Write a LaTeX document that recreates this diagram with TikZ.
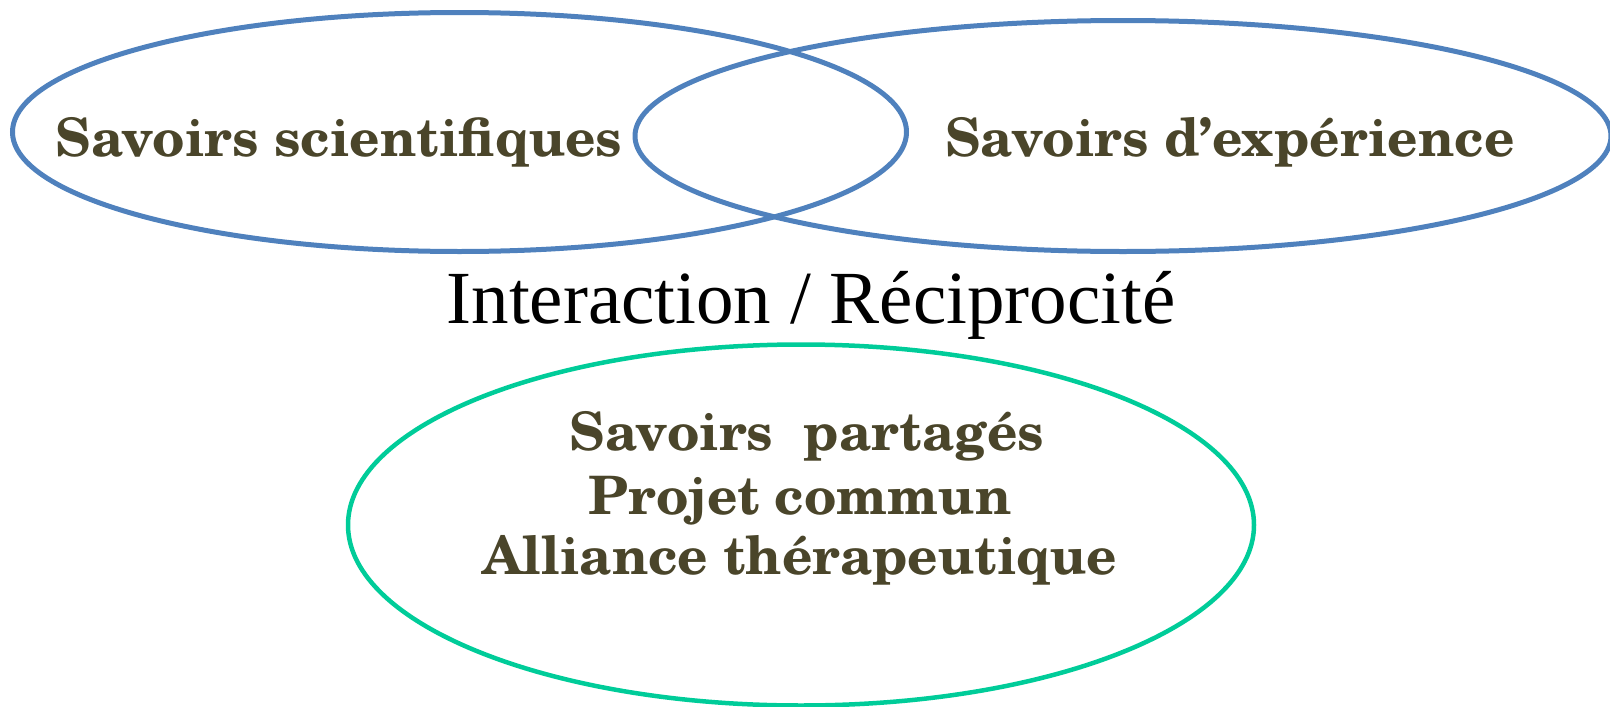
\documentclass[tikz,border=0pt]{standalone}
\usepackage{fontspec}
\setmainfont{Liberation Serif}
\newfontfamily\schola{texgyreschola}[Extension=.otf, UprightFont=*-regular, BoldFont=*-bold]
\definecolor{ellblue}{HTML}{4F81BD}
\definecolor{ellgreen}{HTML}{00CC99}
\definecolor{txtolive}{HTML}{4A452A}
\begin{document}
\begin{tikzpicture}[x=1pt,y=-1pt,
  blueell/.style={draw=ellblue, line width=5pt},
  greenell/.style={draw=ellgreen, line width=4.5pt},
  boldtxt/.style={text=txtolive, font=\schola\bfseries\fontsize{53}{62}\selectfont, inner sep=0pt, anchor=base},
  plaintxt/.style={text=black, font=\fontsize{75}{80}\selectfont, inner sep=0pt, anchor=base}]
\useasboundingbox (0,0) rectangle (1610,707);
\draw[blueell] (459.5,132) ellipse [x radius=447, y radius=119.5];
\draw[blueell] (1123,136) ellipse [x radius=488, y radius=115.5];
\draw[greenell] (801,525) ellipse [x radius=453, y radius=180.5];
\node[boldtxt] (sci) at (339,156) {Savoirs scientifiques};
\node[boldtxt] (exp) at (1230,156) {Savoirs d’expérience};
\node[plaintxt] (inter) at (811,323) {Interaction / Réciprocité};
\node[boldtxt] (l1) at (807,450) {Savoirs\ \ partagés};
\node[boldtxt] (l2) at (800,514) {Projet commun};
\node[boldtxt] (l3) at (800,574) {Alliance thérapeutique};
\end{tikzpicture}
\end{document}
